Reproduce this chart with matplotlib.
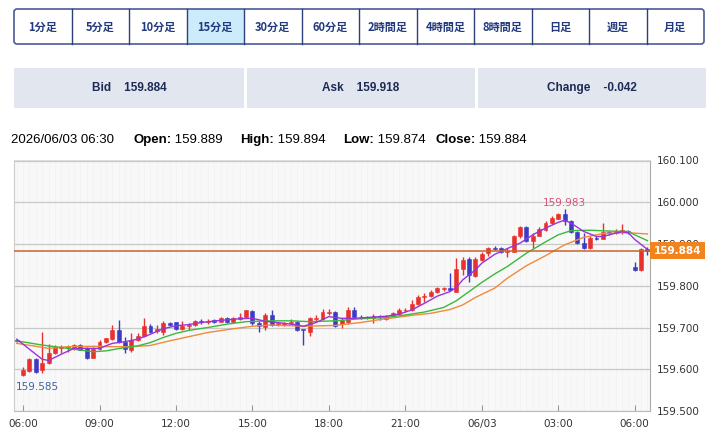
import numpy as np
import pandas as pd
import matplotlib
matplotlib.use("Agg")
import matplotlib.pyplot as plt
from matplotlib.patches import Rectangle, FancyBboxPatch
import matplotlib.transforms as mtrans

# ---- data ----
buttons = ["1分足", "5分足", "10分足", "15分足", "30分足", "60分足",
           "2時間足", "4時間足", "8時間足", "日足", "週足", "月足"]
active_button = "15分足"

bid, ask, change = "159.884", "159.918", "-0.042"
last_time = "2026/06/03 06:30"
last_ohlc = {"Open:": "159.889", "High:": "159.894", "Low:": "159.874", "Close:": "159.884"}
current_price = 159.884

# 15分足 candles, 2026/06/02 05:45 .. 2026/06/03 06:30
opens = [159.670, 159.586, 159.596, 159.625, 159.598, 159.614, 159.638, 159.650, 159.652, 159.650,
         159.658, 159.651, 159.628, 159.648, 159.665, 159.673, 159.694, 159.666, 159.646, 159.670,
         159.679, 159.704, 159.692, 159.690, 159.710, 159.713, 159.696, 159.704, 159.705, 159.715,
         159.712, 159.717, 159.714, 159.722, 159.713, 159.721, 159.725, 159.740, 159.711, 159.702,
         159.730, 159.705, 159.707, 159.710, 159.712, 159.696, 159.690, 159.720, 159.720, 159.735,
         159.738, 159.709, 159.712, 159.742, 159.726, 159.724, 159.722, 159.727, 159.721, 159.728,
         159.733, 159.741, 159.742, 159.757, 159.772, 159.775, 159.784, 159.792, 159.795, 159.786,
         159.840, 159.863, 159.824, 159.861, 159.878, 159.891, 159.890, 159.881, 159.882, 159.919,
         159.941, 159.907, 159.920, 159.934, 159.950, 159.961, 159.971, 159.955, 159.928, 159.902,
         159.890, 159.915, 159.913, 159.929, 159.926, 159.930, 159.932, 159.846, 159.837, 159.889]
highs = [159.672, 159.606, 159.627, 159.626, 159.690, 159.660, 159.659, 159.659, 159.658, 159.660,
         159.660, 159.653, 159.653, 159.670, 159.676, 159.706, 159.717, 159.678, 159.686, 159.687,
         159.722, 159.708, 159.706, 159.715, 159.713, 159.714, 159.716, 159.710, 159.718, 159.720,
         159.720, 159.720, 159.724, 159.725, 159.724, 159.734, 159.743, 159.743, 159.715, 159.734,
         159.741, 159.714, 159.714, 159.720, 159.716, 159.697, 159.726, 159.730, 159.745, 159.744,
         159.740, 159.722, 159.749, 159.749, 159.730, 159.728, 159.733, 159.730, 159.730, 159.738,
         159.746, 159.746, 159.766, 159.778, 159.782, 159.789, 159.797, 159.797, 159.830, 159.866,
         159.870, 159.870, 159.870, 159.882, 159.894, 159.895, 159.893, 159.890, 159.922, 159.944,
         159.944, 159.926, 159.941, 159.954, 159.966, 159.974, 159.983, 159.957, 159.930, 159.926,
         159.918, 159.918, 159.950, 159.930, 159.937, 159.948, 159.934, 159.856, 159.890, 159.894]
lows = [159.666, 159.585, 159.594, 159.592, 159.590, 159.613, 159.637, 159.640, 159.642, 159.647,
        159.645, 159.625, 159.626, 159.645, 159.663, 159.671, 159.662, 159.640, 159.642, 159.667,
        159.677, 159.688, 159.688, 159.682, 159.704, 159.694, 159.694, 159.693, 159.703, 159.708,
        159.709, 159.711, 159.712, 159.711, 159.711, 159.719, 159.722, 159.706, 159.690, 159.694,
        159.703, 159.703, 159.703, 159.708, 159.692, 159.658, 159.680, 159.716, 159.718, 159.731,
        159.702, 159.699, 159.709, 159.720, 159.720, 159.720, 159.711, 159.719, 159.719, 159.726,
        159.731, 159.738, 159.739, 159.755, 159.762, 159.773, 159.782, 159.788, 159.787, 159.784,
        159.826, 159.810, 159.821, 159.859, 159.871, 159.885, 159.878, 159.870, 159.880, 159.914,
        159.904, 159.890, 159.918, 159.930, 159.948, 159.959, 159.946, 159.926, 159.900, 159.888,
        159.888, 159.910, 159.911, 159.922, 159.924, 159.925, 159.924, 159.836, 159.836, 159.874]
closes = [159.668, 159.598, 159.625, 159.594, 159.615, 159.638, 159.653, 159.654, 159.653, 159.658,
          159.647, 159.628, 159.648, 159.666, 159.674, 159.693, 159.666, 159.649, 159.670, 159.680,
          159.704, 159.690, 159.696, 159.710, 159.707, 159.696, 159.704, 159.706, 159.716, 159.712,
          159.716, 159.714, 159.722, 159.713, 159.722, 159.726, 159.741, 159.710, 159.703, 159.730,
          159.707, 159.711, 159.711, 159.714, 159.694, 159.693, 159.722, 159.722, 159.736, 159.738,
          159.704, 159.718, 159.742, 159.726, 159.724, 159.725, 159.728, 159.724, 159.728, 159.734,
          159.742, 159.743, 159.757, 159.773, 159.775, 159.786, 159.794, 159.794, 159.790, 159.840,
          159.862, 159.826, 159.863, 159.877, 159.890, 159.889, 159.882, 159.884, 159.920, 159.941,
          159.906, 159.920, 159.936, 159.950, 159.962, 159.972, 159.954, 159.928, 159.902, 159.890,
          159.914, 159.913, 159.928, 159.926, 159.931, 159.933, 159.929, 159.837, 159.888, 159.884]

# moving averages (candle index, price)
ma_short_idx = [0, 2, 4, 5, 7, 9, 11, 13, 15, 17, 19, 21, 23, 25, 27, 29, 32, 35, 37, 39, 42, 44, 45,
                47, 49, 51, 53, 56, 58, 60, 62, 64, 66, 68, 69, 70, 71, 72, 73, 75, 77, 79, 81, 83,
                85, 86, 87, 89, 91, 92, 94, 95, 96, 97, 98, 99]
ma_short = [159.672, 159.648, 159.624, 159.621, 159.636, 159.650, 159.650, 159.650, 159.662, 159.666,
            159.672, 159.684, 159.697, 159.704, 159.707, 159.712, 159.717, 159.721, 159.722, 159.715,
            159.710, 159.706, 159.703, 159.712, 159.726, 159.722, 159.722, 159.725, 159.727, 159.732,
            159.742, 159.758, 159.775, 159.786, 159.796, 159.814, 159.826, 159.838, 159.854, 159.875,
            159.889, 159.902, 159.922, 159.938, 159.952, 159.957, 159.950, 159.930, 159.918, 159.918,
            159.926, 159.929, 159.927, 159.911, 159.899, 159.887]
ma_mid_idx = [0, 4, 6, 9, 12, 14, 17, 19, 21, 23, 25, 27, 30, 33, 36, 40, 43, 46, 50, 54, 58, 61, 64,
              67, 69, 71, 73, 75, 77, 80, 83, 85, 87, 90, 93, 96, 97, 99]
ma_mid = [159.668, 159.658, 159.654, 159.648, 159.642, 159.644, 159.652, 159.656, 159.664, 159.676,
          159.686, 159.693, 159.700, 159.708, 159.714, 159.716, 159.716, 159.714, 159.716, 159.721,
          159.724, 159.730, 159.737, 159.748, 159.764, 159.786, 159.808, 159.828, 159.846, 159.878,
          159.905, 159.922, 159.932, 159.933, 159.931, 159.930, 159.922, 159.908]
ma_long_idx = [0, 3, 5, 8, 12, 15, 18, 21, 24, 27, 30, 34, 37, 40, 45, 50, 54, 57, 60, 62, 65, 68, 70,
               72, 75, 77, 80, 83, 86, 89, 92, 95, 97, 99]
ma_long = [159.662, 159.655, 159.650, 159.654, 159.655, 159.654, 159.654, 159.657, 159.668, 159.678,
           159.688, 159.697, 159.703, 159.706, 159.703, 159.705, 159.712, 159.719, 159.725, 159.729,
           159.734, 159.743, 159.754, 159.772, 159.794, 159.818, 159.848, 159.872, 159.898, 159.916,
           159.925, 159.927, 159.926, 159.924]

times = pd.date_range("2026-06-02 05:45", periods=len(closes), freq="15min")

# ---- figure ----
plt.rcParams['font.family'] = ['DejaVu Sans']
fig = plt.figure(figsize=(7.2, 4.32), dpi=100)
fig.patch.set_facecolor('white')

# page furniture in pixel coords
bg = fig.add_axes([0, 0, 1, 1])
bg.set_xlim(0, 720)
bg.set_ylim(432, 0)
bg.axis('off')

navy = '#22397f'
bx0, bx1, by0, by1 = 14, 704, 9, 44
bw = (bx1 - bx0) / len(buttons)
for k, name in enumerate(buttons):
    x0 = bx0 + k * bw
    if name == active_button:
        bg.add_patch(Rectangle((x0, by0), bw, by1 - by0, facecolor='#ccecfb', edgecolor='none'))
    if k > 0:
        bg.plot([x0, x0], [by0, by1], color='#2f3f7a', lw=1)
    bg.text(x0 + bw / 2, (by0 + by1) / 2 + 0.5, name, ha='center', va='center', fontsize=8,
            color=navy, weight='bold', family=['Noto Sans CJK JP', 'DejaVu Sans'])
bg.add_patch(FancyBboxPatch((bx0, by0), bx1 - bx0, by1 - by0,
                            boxstyle="round,pad=0,rounding_size=3",
                            facecolor='none', edgecolor='#4a5a96', lw=1.2))

# Bid / Ask / Change panels
panels = [("Bid", bid, 14, 244), ("Ask", ask, 247, 475), ("Change", change, 478, 706)]
for label, val, x0, x1 in panels:
    bg.add_patch(Rectangle((x0, 68), x1 - x0, 40, facecolor='#e2e7ef', edgecolor='none'))
    bg.text((x0 + x1) / 2, 88, label + "    " + val, ha='center', va='center', fontsize=8.5,
            weight='bold', color='#1c2a55', family='Liberation Sans')

# OHLC header line
bg.text(11, 140, last_time, ha='left', va='center', fontsize=9.5, family='Liberation Sans')
xpos = [133, 240, 343, 435]
for (k, v), x in zip(last_ohlc.items(), xpos):
    t = bg.text(x, 140, k, ha='left', va='center', fontsize=9.5, weight='bold', family='Liberation Sans')
    bg.annotate(" " + v, xycoords=t, xy=(1, 0.5), va='center', ha='left', fontsize=9.5,
                family='Liberation Sans')

# ---- candle chart ----
ax = fig.add_axes([14 / 720, 1 - 411 / 432, (650 - 14) / 720, (411 - 160.5) / 432])
ax.set_facecolor('#f8f8f8')
n = len(closes)
xs = np.arange(n)
ax.set_xlim(-0.42, n - 0.6)
ax.set_ylim(159.5, 160.1)

# faint vertical grid + horizontal grid
ax.vlines(xs, 159.5, 160.1, color='#f1f1f1', lw=0.5, zorder=0)
yt = np.round(np.arange(159.5, 160.1001, 0.1), 3)
for y in yt:
    ax.axhline(y, color='#c8c8c8', lw=0.9, zorder=1)

o = np.array(opens); h = np.array(highs); l = np.array(lows); c = np.array(closes)
up = c >= o
cols = np.where(up, '#e8302c', '#3b3bc4')
ax.vlines(xs, l, h, colors=cols, lw=1, zorder=3)
body = np.maximum(np.abs(c - o), 0.0018)
ax.bar(xs, body, bottom=np.minimum(o, c), width=0.62, color=cols, edgecolor=cols, lw=0.4, zorder=4)

ax.plot(ma_long_idx, ma_long, color='#f08a3c', lw=1, zorder=5)
ax.plot(ma_mid_idx, ma_mid, color='#3cb83c', lw=1, zorder=5)
ax.plot(ma_short_idx, ma_short, color='#9933e0', lw=1, zorder=5)

# current price line and label
ax.axhline(current_price, color='#c8642c', lw=1.1, zorder=6)
tr = mtrans.blended_transform_factory(ax.transAxes, ax.transData)
ax.text(1.006, current_price, f"{current_price:.3f}", transform=tr, ha='left', va='center',
        fontsize=7.5, weight='bold', color='white', zorder=10, clip_on=False,
        bbox=dict(boxstyle='square,pad=0.35', facecolor='#f2841e', edgecolor='none'))

# high / low labels
hi = int(np.argmax(h)); lo = int(np.argmin(l))
ax.annotate(f"{h[hi]:.3f}", xy=(hi, h[hi]), xytext=(0, 1), textcoords='offset points',
            ha='center', va='bottom', fontsize=7.5, color='#d9547a', zorder=7)
ax.annotate(f"{l[lo]:.3f}", xy=(lo, l[lo]), xytext=(-5, -5), textcoords='offset points',
            ha='left', va='top', fontsize=7.5, color='#3f62a4', zorder=7)

# axes
ax.yaxis.tick_right()
ax.set_yticks(yt)
ax.set_yticklabels([f"{y:.3f}" for y in yt])
ax.tick_params(axis='y', length=0, pad=5, labelsize=7.5, labelcolor='#333333')

tick_idx = [i for i, t in enumerate(times) if t.minute == 0 and t.hour % 3 == 0]
tick_lab = [t.strftime("%m/%d") if t.hour == 0 else t.strftime("%H:%M") for t in times[tick_idx]]
ax.set_xticks(tick_idx)
ax.set_xticklabels(tick_lab)
ax.tick_params(axis='x', direction='in', length=4, color='#999999', pad=6,
               labelsize=7.5, labelcolor='#333333')

ax.spines['left'].set_color('#cccccc')
ax.spines['top'].set_color('#dddddd')
ax.spines['bottom'].set_color('#bbbbbb')
ax.spines['right'].set_color('#aaaaaa')

fig.savefig('out.png', dpi=100)
